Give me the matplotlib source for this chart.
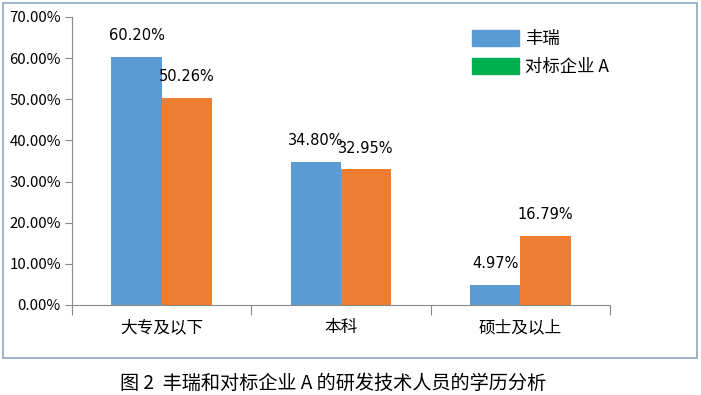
import matplotlib.pyplot as plt
from matplotlib.patches import Patch, Rectangle
import numpy as np

plt.rcParams['font.family'] = ['Noto Sans CJK SC', 'DejaVu Sans']

categories = ['大专及以下', '本科', '硕士及以上']
fengrui = [60.20, 34.80, 4.97]
benchmark = [50.26, 32.95, 16.79]
yticks = [0, 10, 20, 30, 40, 50, 60, 70]
series_names = ['丰瑞', '对标企业 A']
caption = '图 2  丰瑞和对标企业 A 的研发技术人员的学历分析'

blue = '#5B9BD5'
orange = '#ED7D31'
green = '#00B050'

fig = plt.figure(figsize=(7.01, 3.95), dpi=100)
fig.patches.append(Rectangle((3 / 701, 37 / 395), 694 / 701, 355 / 395,
                             transform=fig.transFigure, fill=False,
                             edgecolor='#8EA6C2', linewidth=1.2))

ax = fig.add_axes([72 / 701, 90 / 395, 538 / 701, 288 / 395])
x = np.arange(len(categories))
w = 0.28
b1 = ax.bar(x - w / 2, fengrui, w, color=blue)
b2 = ax.bar(x + w / 2, benchmark, w, color=orange)

for bars, vals in ((b1, fengrui), (b2, benchmark)):
    for rect, v in zip(bars, vals):
        ax.annotate('{:.2f}%'.format(v), (rect.get_x() + rect.get_width() / 2, v),
                    xytext=(0, 10), textcoords='offset points',
                    ha='center', va='bottom', fontsize=10.5, family='DejaVu Sans')

ax.set_xlim(-0.5, len(categories) - 0.5)
ax.set_ylim(0, 70)
ax.set_yticks(yticks)
ax.set_yticklabels(['{:.2f}%'.format(t) for t in yticks], fontsize=10.8)
ax.set_xticks(np.arange(len(categories) + 1) - 0.5)
ax.set_xticklabels([])
ax.set_xticks(x, minor=True)
ax.set_xticklabels(categories, minor=True, fontsize=12)
ax.tick_params(axis='x', which='major', length=7, color='#898989')
ax.tick_params(axis='x', which='minor', length=0, pad=10)
ax.tick_params(axis='y', length=5, color='#898989', pad=3)
for s in ('top', 'right'):
    ax.spines[s].set_visible(False)
for s in ('left', 'bottom'):
    ax.spines[s].set_color('#898989')

handles = [Patch(color=blue), Patch(color=green)]
fig.legend(handles, series_names, loc='upper left',
           bbox_to_anchor=(456 / 701, 1 - 14 / 395), frameon=False,
           fontsize=12.5, handlelength=2.7, handleheight=1.05,
           handletextpad=0.4, labelspacing=0.6)

fig.text(0.475, 1 - 383 / 395, caption, ha='center', va='center', fontsize=13.8,
         weight='medium')

fig.savefig('out.png', dpi=100)
